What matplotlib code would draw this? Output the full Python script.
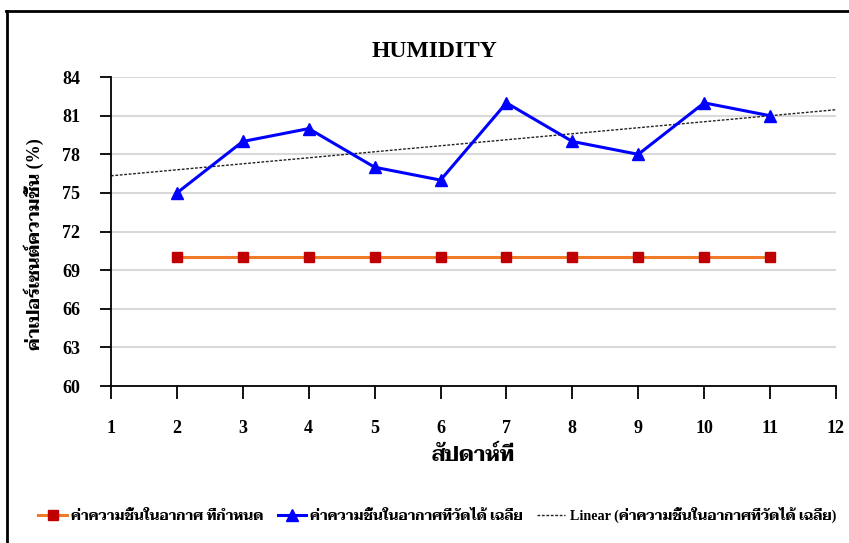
import numpy as np
import matplotlib
matplotlib.use("Agg")
import matplotlib.pyplot as plt
from matplotlib.lines import Line2D

# ข้อมูลความชื้นรายสัปดาห์
weeks = [2, 3, 4, 5, 6, 7, 8, 9, 10, 11]
target_humidity = [70, 70, 70, 70, 70, 70, 70, 70, 70, 70]
measured_humidity = [75, 79, 80, 77, 76, 82, 79, 78, 82, 81]

x_ticks = list(range(1, 13))
y_ticks = [60, 63, 66, 69, 72, 75, 78, 81, 84]

lbl_target = "ค่าความชื้นในอากาศ ที่กำหนด"
lbl_measured = "ค่าความชื้นในอากาศที่วัดได้ เฉลี่ย"
lbl_trend = "Linear (ค่าความชื้นในอากาศที่วัดได้ เฉลี่ย)"

FONT = ["Liberation Serif", "Taviraj", "DejaVu Sans"]
plt.rcParams["font.family"] = FONT

fig = plt.figure(figsize=(8.49, 5.43), dpi=100)
ax = fig.add_axes([0.1307, 0.289, 0.854, 0.569])

for y in y_ticks[1:]:
    ax.axhline(y, color="#d9d9d9", lw=1.5, zorder=0)

# เส้นแนวโน้ม
coef = np.polyfit(weeks, measured_humidity, 1)
xt = np.array([1, 12])
ax.plot(xt, np.polyval(coef, xt), ls=(0, (2, 1.2)), color="#222222", lw=1.0, zorder=2)

ax.plot(weeks, target_humidity, color="#f07a28", lw=2.2, marker="s",
        ms=7, mfc="#c00000", mec="#c00000", zorder=3)
ax.plot(weeks, measured_humidity, color="#0000ff", lw=2.2, marker="^",
        ms=8, mfc="#0000ff", mec="#0000ff", zorder=4)

ax.set_xlim(1, 12)
ax.set_ylim(60, 84)
ax.set_xticks(x_ticks)
ax.set_yticks(y_ticks)
for s in ["top", "right"]:
    ax.spines[s].set_visible(False)
for s in ["left", "bottom"]:
    ax.spines[s].set_linewidth(1.3)
ax.tick_params(axis="y", direction="out", length=8, width=1.3, pad=14, labelsize=13)
ax.tick_params(axis="x", direction="out", length=9, width=1.3, pad=15.5, labelsize=13)
for t in ax.get_xticklabels() + ax.get_yticklabels():
    t.set_fontweight("bold")

fig.text(0.512, 0.905, "HUMIDITY", ha="center", va="center",
         fontsize=17, fontweight="bold")
ax.set_xlabel("สัปดาห์ที่", fontsize=15, fontweight="bold", labelpad=6)
fig.text(0.04, 0.55, "ค่าเปอร์เซนต์ความชื้น (%)", rotation=90, ha="center", va="center",
         fontsize=13, fontweight="bold")

handles = [
    Line2D([], [], color="#f07a28", lw=2.2, marker="s", ms=7, mfc="#c00000", mec="#c00000"),
    Line2D([], [], color="#0000ff", lw=2.2, marker="^", ms=8, mfc="#0000ff", mec="#0000ff"),
    Line2D([], [], ls=(0, (2, 1.2)), color="#222222", lw=1.0),
]
leg = fig.legend(handles, [lbl_target, lbl_measured, lbl_trend], loc="center",
                 bbox_to_anchor=(0.515, 0.052), ncol=3, frameon=False,
                 prop={"family": FONT, "weight": "bold", "size": 10.2},
                 handlelength=2.0, handletextpad=0.3, columnspacing=1.0)

# กรอบรูป
fig.add_artist(Line2D([0.0085, 0.0085], [0, 0.98], transform=fig.transFigure, color="black", lw=2))
fig.add_artist(Line2D([0.0075, 1.0], [0.979, 0.979], transform=fig.transFigure, color="black", lw=2))

fig.savefig("out.png", dpi=100)
